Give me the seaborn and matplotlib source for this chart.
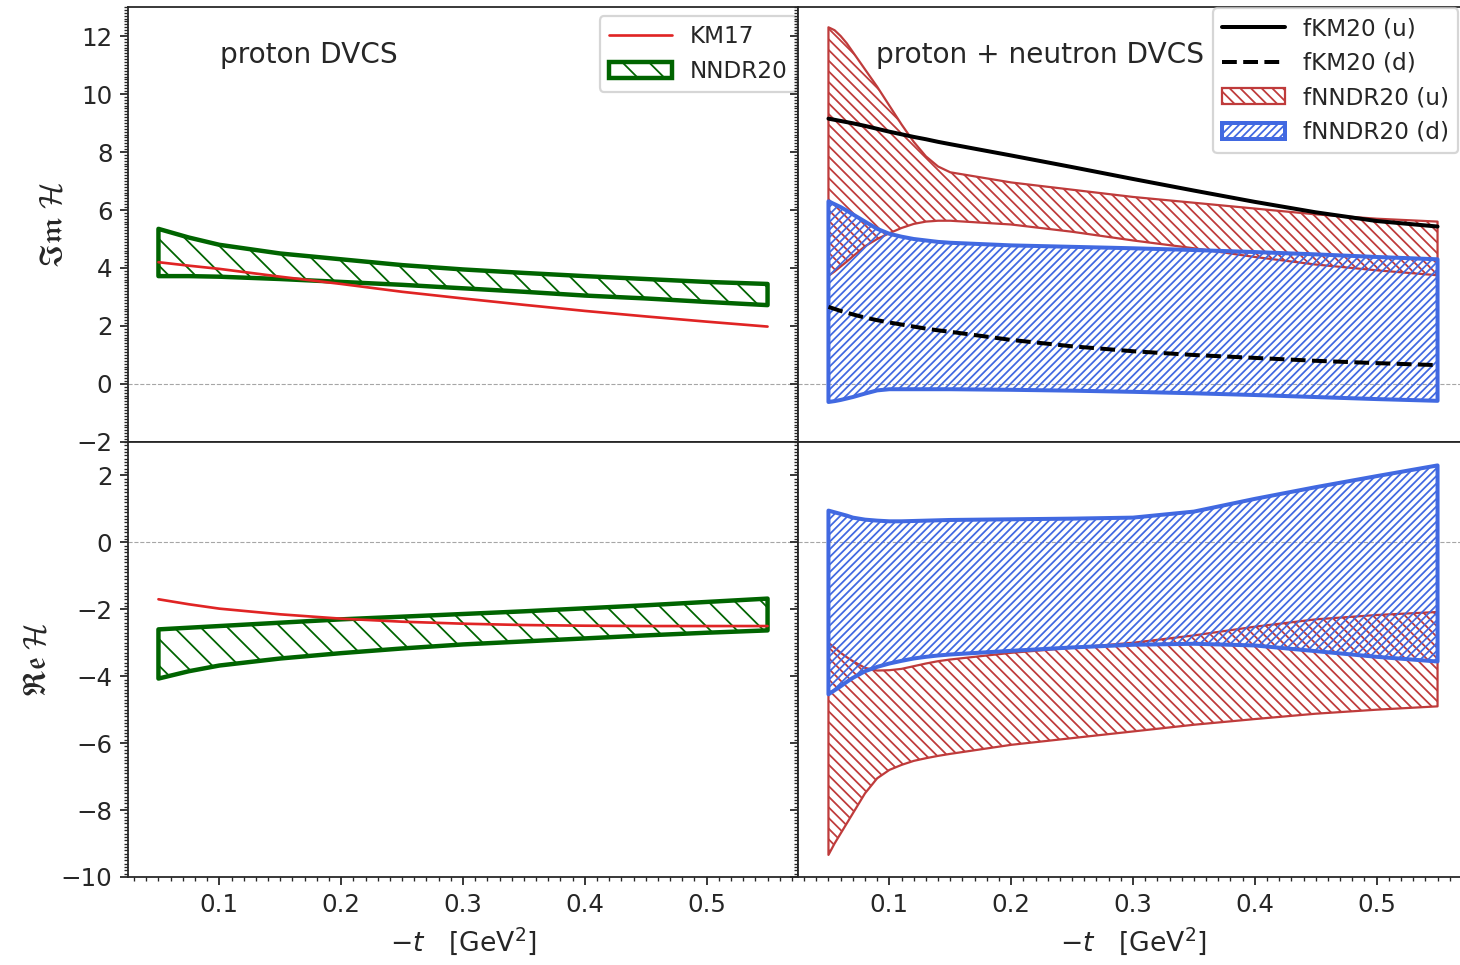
import numpy as np
import pandas as pd
import seaborn as sns
import matplotlib.pyplot as plt
from matplotlib.ticker import MultipleLocator

# -t grid for the proton panels
t_p = [0.05, 0.075, 0.1, 0.15, 0.2, 0.25, 0.3, 0.35, 0.4, 0.45, 0.5, 0.55]
km17_im = [4.20, 4.08, 3.97, 3.70, 3.45, 3.18, 2.95, 2.73, 2.52, 2.33, 2.15, 1.98]
km17_re = [-1.70, -1.85, -1.98, -2.15, -2.28, -2.37, -2.43, -2.47, -2.49, -2.50, -2.50, -2.50]
nndr_im_hi = [5.35, 5.05, 4.80, 4.50, 4.30, 4.10, 3.95, 3.83, 3.72, 3.62, 3.52, 3.45]
nndr_im_lo = [3.72, 3.72, 3.70, 3.62, 3.52, 3.42, 3.30, 3.18, 3.05, 2.95, 2.83, 2.72]
nndr_re_hi = [-2.60, -2.55, -2.50, -2.40, -2.30, -2.22, -2.14, -2.06, -1.97, -1.88, -1.78, -1.68]
nndr_re_lo = [-4.07, -3.85, -3.68, -3.47, -3.31, -3.17, -3.05, -2.96, -2.87, -2.78, -2.70, -2.63]

# -t grid for the flavour panels
t_f = [0.05, 0.055, 0.06, 0.065, 0.07, 0.08, 0.09, 0.1, 0.11, 0.12, 0.13, 0.14, 0.15,
       0.2, 0.25, 0.3, 0.35, 0.4, 0.45, 0.5, 0.55]
fkm_u_im = [9.15, 9.11, 9.07, 9.03, 8.99, 8.90, 8.80, 8.70, 8.61, 8.52, 8.44, 8.35, 8.27,
            7.88, 7.48, 7.07, 6.67, 6.28, 5.92, 5.62, 5.43]
fkm_d_im = [2.66, 2.59, 2.52, 2.46, 2.40, 2.29, 2.20, 2.12, 2.05, 1.98, 1.91, 1.85, 1.80,
            1.52, 1.30, 1.13, 1.00, 0.90, 0.80, 0.72, 0.65]
fnn_u_im_hi = [12.3, 12.2, 12.0, 11.75, 11.45, 10.85, 10.25, 9.6, 8.95, 8.35, 7.85, 7.5, 7.3,
               6.95, 6.7, 6.45, 6.25, 6.05, 5.85, 5.7, 5.6]
fnn_u_im_lo = [3.73, 3.88, 4.05, 4.22, 4.4, 4.75, 5.0, 5.2, 5.38, 5.52, 5.6, 5.63, 5.63,
               5.5, 5.25, 4.95, 4.68, 4.38, 4.12, 3.92, 3.75]
fnn_d_im_hi = [6.3, 6.2, 6.1, 5.98, 5.85, 5.6, 5.35, 5.18, 5.08, 5.0, 4.95, 4.9, 4.87,
               4.78, 4.73, 4.68, 4.62, 4.55, 4.47, 4.38, 4.3]
fnn_d_im_lo = [-0.62, -0.59, -0.55, -0.5, -0.45, -0.33, -0.22, -0.18, -0.18, -0.18, -0.18, -0.18, -0.18,
               -0.2, -0.23, -0.27, -0.32, -0.38, -0.45, -0.52, -0.58]
fnn_u_re_hi = [-3.0, -3.15, -3.3, -3.43, -3.55, -3.75, -3.83, -3.82, -3.78, -3.7, -3.62, -3.55, -3.5,
               -3.3, -3.15, -3.0, -2.78, -2.52, -2.3, -2.17, -2.08]
fnn_u_re_lo = [-9.34, -9.0, -8.7, -8.4, -8.1, -7.5, -7.05, -6.8, -6.65, -6.53, -6.45, -6.38, -6.32,
               -6.05, -5.85, -5.65, -5.45, -5.28, -5.12, -5.0, -4.9]
fnn_d_re_hi = [0.95, 0.9, 0.85, 0.8, 0.74, 0.68, 0.65, 0.63, 0.63, 0.64, 0.65, 0.66, 0.67,
               0.69, 0.71, 0.74, 0.92, 1.30, 1.65, 1.98, 2.30]
fnn_d_re_lo = [-4.54, -4.42, -4.3, -4.17, -4.05, -3.85, -3.72, -3.62, -3.54, -3.47, -3.42, -3.38, -3.35,
               -3.24, -3.14, -3.06, -3.03, -3.08, -3.25, -3.42, -3.56]

prot = pd.DataFrame({'t': t_p, 'km17_im': km17_im, 'km17_re': km17_re})
flav = pd.DataFrame({'t': t_f, 'u': fkm_u_im, 'd': fkm_d_im})

sns.set_style('ticks')
plt.rcParams['font.family'] = ['DejaVu Sans']
plt.rcParams['mathtext.fontset'] = 'dejavusans'
plt.rcParams['xtick.labelsize'] = 11
plt.rcParams['ytick.labelsize'] = 11
plt.rcParams['hatch.linewidth'] = 0.8

GREEN = '#006400'
RED = '#bf3b3b'
BLUE = '#4169e1'
H_GREEN = '\\' * 2
H_RED = '\\' * 5
H_BLUE = '/' * 7

fig, axes = plt.subplots(2, 2, figsize=(1460 / 160, 965 / 160), dpi=160,
                         sharex=True, sharey='row')
fig.subplots_adjust(left=128 / 1460, right=1468 / 1460, bottom=88 / 965, top=958 / 965,
                    wspace=0, hspace=0)
(a_im_p, a_im_f), (a_re_p, a_re_f) = axes

# proton DVCS
sns.lineplot(data=prot, x='t', y='km17_im', ax=a_im_p, color='#e02424', lw=1.2, label='KM17')
a_im_p.fill_between(t_p, nndr_im_lo, nndr_im_hi, facecolor='none', edgecolor=GREEN,
                    hatch=H_GREEN, lw=2.0, label='NNDR20')
sns.lineplot(data=prot, x='t', y='km17_re', ax=a_re_p, color='#e02424', lw=1.2, legend=False)
a_re_p.fill_between(t_p, nndr_re_lo, nndr_re_hi, facecolor='none', edgecolor=GREEN,
                    hatch=H_GREEN, lw=2.0)

# proton + neutron DVCS
sns.lineplot(data=flav, x='t', y='u', ax=a_im_f, color='black', lw=1.8, label='fKM20 (u)')
sns.lineplot(data=flav, x='t', y='d', ax=a_im_f, color='black', lw=1.8, linestyle='--',
             label='fKM20 (d)')
a_im_f.fill_between(t_f, fnn_u_im_lo, fnn_u_im_hi, facecolor='none', edgecolor=RED,
                    hatch=H_RED, lw=1.0, label='fNNDR20 (u)')
a_im_f.fill_between(t_f, fnn_d_im_lo, fnn_d_im_hi, facecolor='none', edgecolor=BLUE,
                    hatch=H_BLUE, lw=1.8, label='fNNDR20 (d)')
a_re_f.fill_between(t_f, fnn_u_re_lo, fnn_u_re_hi, facecolor='none', edgecolor=RED,
                    hatch=H_RED, lw=1.0)
a_re_f.fill_between(t_f, fnn_d_re_lo, fnn_d_re_hi, facecolor='none', edgecolor=BLUE,
                    hatch=H_BLUE, lw=1.8)

for ax in axes.flat:
    ax.axhline(0, ls='--', color='gray', lw=0.5, alpha=0.7, zorder=0)
    ax.xaxis.set_minor_locator(MultipleLocator(0.01))
    ax.yaxis.set_minor_locator(MultipleLocator(0.1))
    ax.set_xlabel('')
    ax.set_ylabel('')

a_im_p.set_xlim(0.025, 0.575)
a_im_p.set_ylim(-2, 13)
a_re_p.set_ylim(-10, 3)
a_im_p.set_yticks([-2, 0, 2, 4, 6, 8, 10, 12])
a_re_p.set_yticks([-10, -8, -6, -4, -2, 0, 2])
a_re_p.set_xticks([0.1, 0.2, 0.3, 0.4, 0.5])

a_im_p.set_ylabel(r'$\mathfrak{Im}\;\mathcal{H}$', fontsize=14, math_fontfamily='cm')
a_re_p.set_ylabel(r'$\mathfrak{Re}\;\mathcal{H}$', fontsize=14, math_fontfamily='cm')
for ax in (a_re_p, a_re_f):
    ax.set_xlabel(r'$-t$   [GeV$^2$]', fontsize=12)

a_im_p.text(0.137, 0.89, 'proton DVCS', transform=a_im_p.transAxes,
            fontsize=12.6, va='center')
a_im_f.text(0.116, 0.89, 'proton + neutron DVCS', transform=a_im_f.transAxes,
            fontsize=12.6, va='center')

a_im_p.legend(loc='upper right', bbox_to_anchor=(1 - 1 / 670, 425 / 434), borderaxespad=0,
              fontsize=10.4, handlelength=2.7)
a_im_f.legend(loc='upper left', bbox_to_anchor=(415 / 670, 433 / 434), borderaxespad=0,
              fontsize=10.4, handlelength=2.7)

plt.savefig('out.png', dpi=160)
